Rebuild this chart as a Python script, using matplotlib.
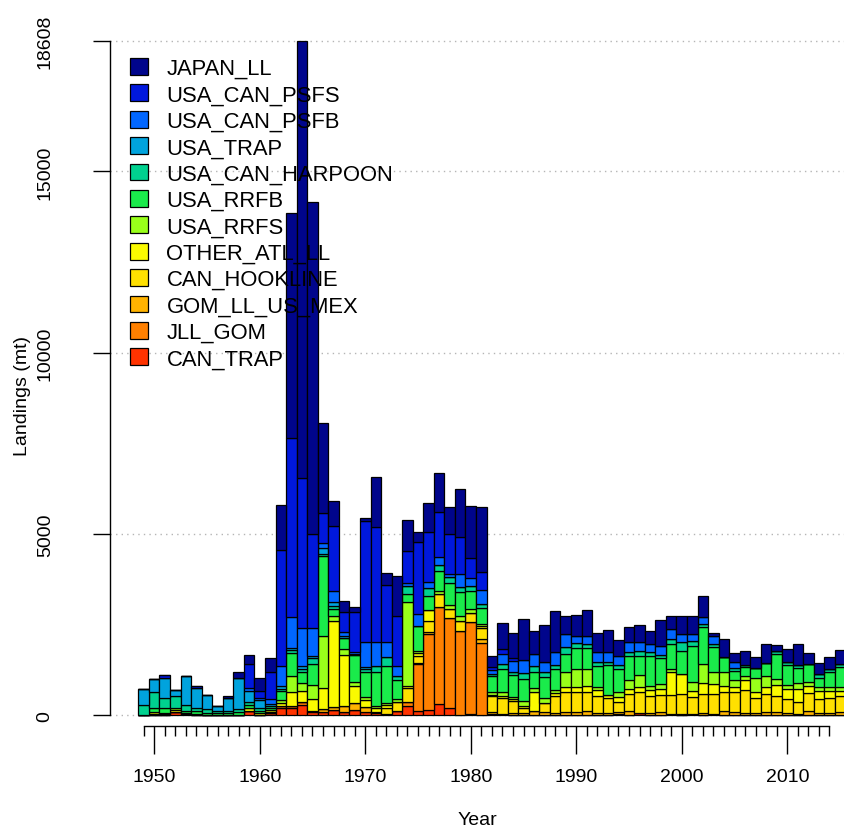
import numpy as np
import matplotlib
matplotlib.use("Agg")
import matplotlib.pyplot as plt
from matplotlib.ticker import FixedLocator

plt.rcParams['font.family'] = ['Liberation Sans', 'DejaVu Sans']

years = np.arange(1949, 2016)

# landings by fleet (mt), 1949-2015, listed bottom of stack first
can_trap = [0, 0, 0, 90, 30, 0, 0, 0, 0, 0,
            110, 0, 70, 202, 198, 290, 87, 87, 161, 106,
            161, 106, 60, 41, 133, 271, 133, 161, 317, 198,
            14, 41, 14, 41, 43, 0, 0, 0, 0, 0,
            0, 0, 0, 0, 0, 50, 0, 69, 0, 0,
            41, 0, 41, 0, 41, 0, 0, 0, 0, 0,
            0, 0, 0, 0, 0, 0, 0]
jll_gom = [0, 0, 0, 0, 0, 0, 0, 0, 0, 0,
           0, 0, 0, 46, 73, 91, 46, 0, 0, 0,
           0, 0, 46, 0, 0, 92, 1287, 2086, 2665, 2481,
           2325, 2528, 1985, 0, 0, 0, 0, 0, 0, 0,
           0, 0, 0, 0, 0, 0, 0, 0, 0, 0,
           0, 0, 0, 0, 0, 0, 0, 0, 0, 0,
           0, 0, 0, 0, 0, 0, 0]
gom_ll_us_mex = [0, 0, 0, 0, 0, 0, 0, 0, 0, 0,
                 0, 0, 0, 0, 0, 0, 0, 92, 64, 165,
                 174, 119, 0, 0, 0, 0, 27, 46, 0, 0,
                 0, 0, 110, 65, 0, 73, 69, 133, 106, 74,
                 87, 106, 133, 69, 69, 56, 133, 0, 69, 87,
                 0, 41, 0, 69, 0, 133, 87, 69, 69, 87,
                 87, 69, 41, 133, 69, 69, 87]
can_hookline = [0, 50, 40, 0, 25, 50, 25, 0, 0, 0,
                0, 0, 30, 0, 0, 0, 0, 0, 0, 0,
                0, 0, 0, 157, 230, 381, 203, 322, 368, 257,
                276, 257, 295, 420, 430, 330, 129, 0, 239, 450,
                552, 533, 506, 478, 404, 275, 460, 570, 478, 478,
                524, 552, 460, 524, 552, 506, 552, 643, 404, 506,
                460, 386, 322, 487, 386, 404, 460]
other_atl_ll = [0, 50, 40, 60, 0, 0, 0, 0, 0, 0,
                92, 55, 40, 92, 368, 304, 322, 570, 2390, 1397,
                469, 212, 92, 92, 0, 60, 73, 303, 0, 0,
                0, 0, 59, 40, 74, 50, 73, 524, 0, 100,
                138, 138, 165, 165, 92, 120, 138, 138, 165, 166,
                625, 551, 184, 303, 275, 183, 138, 276, 166, 184,
                294, 276, 368, 202, 230, 212, 138]
usa_rrfs = [0, 0, 0, 60, 0, 0, 0, 0, 0, 0,
            0, 0, 0, 92, 441, 211, 386, 1434, 138, 165,
            110, 64, 73, 55, 92, 2334, 65, 0, 92, 111,
            138, 111, 60, 74, 92, 50, 138, 92, 128, 92,
            413, 505, 478, 65, 0, 138, 257, 340, 92, 137,
            92, 0, 229, 524, 322, 368, 211, 110, 386, 321,
            165, 110, 165, 111, 92, 92, 92]
usa_rrfb = [0, 100, 138, 0, 74, 60, 30, 55, 60, 84,
            74, 55, 60, 230, 643, 312, 579, 2206, 184, 303,
            753, 708, 919, 1029, 533, 212, 689, 386, 551, 606,
            661, 505, 432, 441, 643, 600, 597, 459, 579, 570,
            505, 570, 570, 579, 827, 643, 662, 533, 827, 708,
            689, 644, 1011, 1011, 689, 413, 248, 230, 275, 349,
            689, 551, 404, 487, 248, 431, 551]
usa_can_harpoon = [276, 441, 267, 331, 165, 110, 110, 55, 50, 100,
                   92, 110, 74, 68, 69, 87, 156, 64, 92, 0,
                   0, 73, 166, 229, 110, 230, 0, 202, 156, 156,
                   120, 138, 119, 64, 138, 92, 166, 148, 138, 110,
                   185, 147, 119, 110, 92, 110, 110, 137, 111, 92,
                   138, 229, 138, 92, 92, 0, 64, 64, 0, 0,
                   93, 92, 92, 0, 119, 74, 92]
usa_trap = [459, 377, 540, 156, 781, 533, 386, 165, 377, 846,
            312, 211, 55, 70, 60, 80, 74, 156, 110, 64,
            34, 46, 0, 0, 0, 0, 0, 0, 0, 0,
            0, 0, 0, 0, 0, 0, 0, 0, 0, 0,
            0, 0, 0, 0, 0, 0, 0, 0, 0, 0,
            0, 0, 0, 0, 0, 0, 0, 0, 0, 0,
            0, 0, 0, 0, 0, 0, 0]
usa_can_psfb = [0, 0, 0, 0, 0, 0, 0, 0, 0, 0,
                74, 64, 129, 568, 855, 1029, 754, 147, 303, 92,
                40, 707, 661, 432, 258, 73, 322, 184, 212, 92,
                367, 202, 395, 120, 275, 320, 367, 339, 295, 368,
                367, 202, 212, 276, 276, 258, 276, 230, 229, 257,
                276, 230, 184, 183, 230, 0, 166, 0, 0, 0,
                0, 0, 0, 0, 0, 0, 0]
usa_can_psfs = [0, 0, 92, 0, 0, 64, 0, 0, 0, 0,
                671, 184, 754, 3198, 4934, 4135, 2600, 827, 1778, 570,
                1121, 3336, 3171, 1563, 1378, 891, 1994, 1379, 1259, 1103,
                1011, 552, 497, 64, 138, 60, 0, 0, 0, 0,
                0, 0, 0, 0, 0, 0, 0, 0, 0, 0,
                0, 0, 0, 0, 0, 0, 0, 0, 0, 0,
                0, 0, 0, 0, 0, 0, 0]
japan_ll = [0, 0, 0, 0, 0, 0, 0, 0, 50, 165,
            230, 349, 367, 1241, 6205, 12069, 9162, 2494, 707, 285,
            138, 73, 1378, 331, 1122, 845, 257, 790, 1066, 735,
            1332, 1433, 1773, 303, 708, 700, 1121, 625, 1010, 1130,
            505, 570, 726, 533, 606, 441, 395, 478, 349, 708,
            367, 487, 505, 597, 74, 506, 248, 396, 304, 524,
            156, 349, 579, 294, 294, 322, 395]

fleets = ['CAN_TRAP', 'JLL_GOM', 'GOM_LL_US_MEX', 'CAN_HOOKLINE', 'OTHER_ATL_LL',
          'USA_RRFS', 'USA_RRFB', 'USA_CAN_HARPOON', 'USA_TRAP', 'USA_CAN_PSFB',
          'USA_CAN_PSFS', 'JAPAN_LL']
series = [can_trap, jll_gom, gom_ll_us_mex, can_hookline, other_atl_ll, usa_rrfs,
          usa_rrfb, usa_can_harpoon, usa_trap, usa_can_psfb, usa_can_psfs, japan_ll]
colors = ['#FF3300', '#FF8000', '#FFB300', '#FFE000', '#FAFA00', '#99FF1A',
          '#1AEB4B', '#00D18F', '#00A3DD', '#0066FF', '#0018DD', '#00058C']

W, H = 845, 829
fig = plt.figure(figsize=(W / 100, H / 100), dpi=100)
ax = fig.add_axes([110 / W, (H - 727) / H, (W - 110) / W, (727 - 20) / H])

bottom = np.zeros(len(years))
handles = []
for name, vals, col in zip(fleets, series, colors):
    vals = np.array(vals, dtype=float)
    b = ax.bar(years, vals, width=1.0, bottom=bottom, color=col,
               edgecolor='black', linewidth=0.9, label=name, zorder=2)
    handles.append(b)
    bottom += vals

ymax = bottom.max()
ax.set_xlim(1945.81, 2015.47)
ax.set_ylim(-290, 19203)

# dotted reference lines
yt = [0, 5000, 10000, 15000, ymax]
ax.set_yticks(yt)
ax.set_yticklabels([f'{v:.0f}' for v in yt], rotation=90, va='center', fontsize=14)
ax.yaxis.grid(True, linestyle=(0, (1, 3)), color='#b5b5b5', linewidth=1.0)
ax.set_axisbelow(True)

ax.xaxis.set_major_locator(FixedLocator(range(1950, 2011, 10)))
ax.xaxis.set_minor_locator(FixedLocator([y for y in range(1949, 2015) if y % 10]))
ax.tick_params(axis='x', which='major', length=20, width=1.0, labelsize=14, pad=10)
ax.tick_params(axis='x', which='minor', length=7, width=1.0)
ax.tick_params(axis='y', length=12, width=1.0, pad=28.5)

for s in ['top', 'right']:
    ax.spines[s].set_visible(False)
ax.spines['left'].set_bounds(0, ymax)
ax.spines['bottom'].set_bounds(1949, 2014)
ax.spines['left'].set_linewidth(1.0)
ax.spines['bottom'].set_linewidth(1.0)

ax.set_ylabel('Landings (mt)', fontsize=14)
ax.yaxis.set_label_coords(-0.108, 0.468)
ax.set_xlabel('Year', fontsize=14)
ax.xaxis.set_label_coords(0.5, -0.12)

ax.legend(handles[::-1], fleets[::-1], loc='upper left',
          bbox_to_anchor=(0.0272, (727 - 59) / 707), frameon=False,
          fontsize=15.8, handlelength=0.8, handleheight=0.8,
          handletextpad=0.86, labelspacing=0.245, borderpad=0, borderaxespad=0)

fig.savefig('out.png', dpi=100)
